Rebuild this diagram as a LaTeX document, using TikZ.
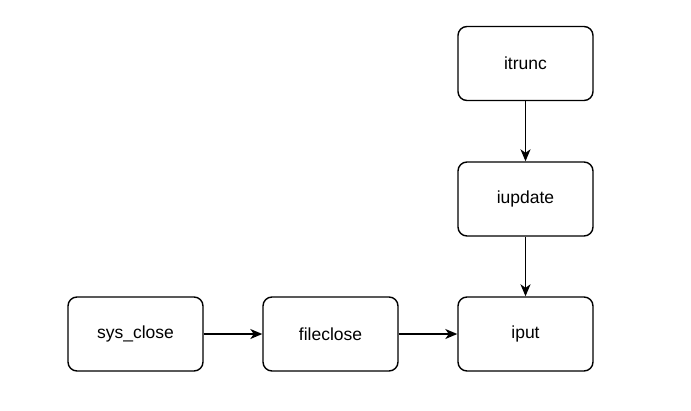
\documentclass[tikz,border=0pt]{standalone}
\usepackage{fontspec}
\setmainfont{Liberation Sans}
\usetikzlibrary{arrows.meta}
\begin{document}
\begin{tikzpicture}[x=1pt,y=-1pt,
  box/.style={draw=black,line width=1.4pt,rounded corners=9pt,minimum width=135pt,minimum height=74pt,inner sep=0pt,font=\fontsize{17.5}{20}\selectfont,fill=white},
  conn/.style={line width=1.4pt,-{Stealth[length=12pt,width=10pt,inset=3.5pt]}}]
\useasboundingbox (0,0) rectangle (691,410);
\node[box] (itrunc) at (525.5,63.5) {itrunc};
\node[box] (iupdate) at (525.5,199) {iupdate};
\node[box] (iput) at (525.5,334) {iput};
\node[box] (sysclose) at (135.5,334) {sys\_close};
\node[box] (fileclose) at (330.5,334) {fileclose};
\draw[conn] (itrunc) -- (iupdate);
\draw[conn] (iupdate) -- (iput);
\draw[conn] (sysclose) -- (fileclose);
\draw[conn] (fileclose) -- (iput);
\end{tikzpicture}
\end{document}
